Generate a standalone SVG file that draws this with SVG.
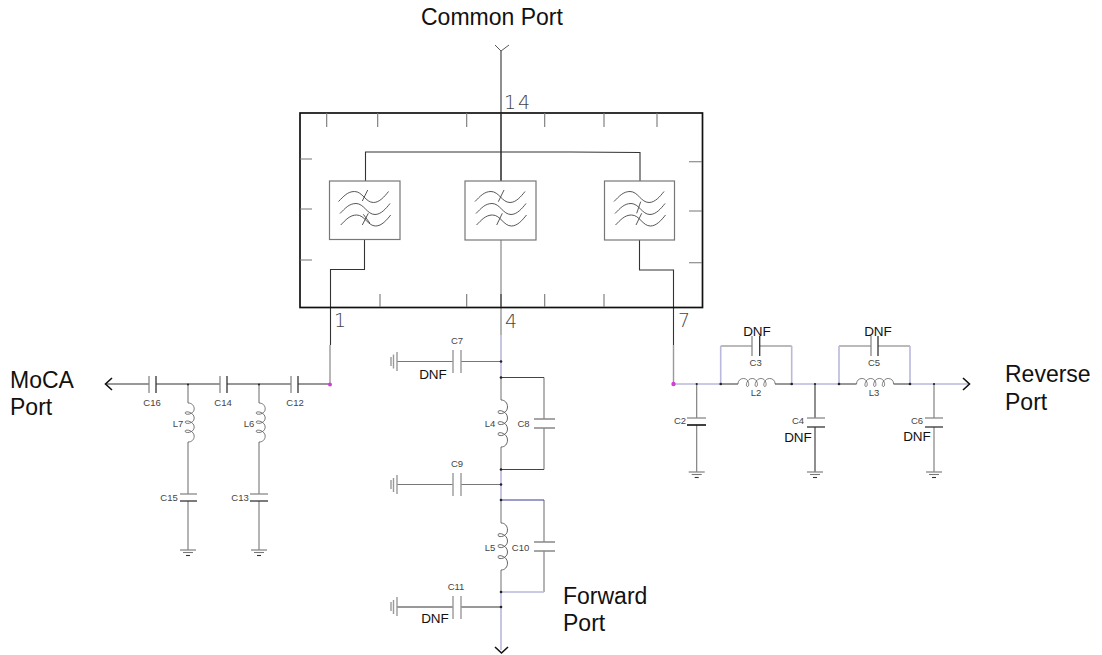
<svg xmlns="http://www.w3.org/2000/svg" width="1102" height="655" viewBox="0 0 1102 655">
<style>
text{font-family:"Liberation Sans",Arial,sans-serif;fill:#111}
.big{font-size:23px}
.dnf{font-size:13.5px;text-anchor:middle}
.sm{font-size:9.5px;text-anchor:middle;fill:#444}
.pin{font-family:"DejaVu Sans",sans-serif;font-size:19px;fill:#444;font-weight:200}
.w{fill:none;stroke:#777;stroke-width:1.1}
.d{fill:none;stroke:#333;stroke-width:1.1}
.g{fill:none;stroke:#999;stroke-width:1.4}
.pb{fill:none;stroke:#b9b9dc;stroke-width:1.6}
.b{fill:none;stroke:#3a3a96;stroke-width:1.1}
.f{fill:#fff;stroke:#777;stroke-width:1.2}
.t{fill:none;stroke:#444;stroke-width:.9}
.i{fill:none;stroke:#555;stroke-width:.9}
.p{fill:none;stroke:#888;stroke-width:1.3}
.pk{fill:none;stroke:#333;stroke-width:1.3}
.a{fill:none;stroke:#111;stroke-width:1.6}
.n{fill:#222}
.m{fill:#d040d0}
</style>
<defs>
<path id="wave" class="t" d="M0 0C5-5 9-10 16-10C24-10 27 1 35 1C41 1 46-5 50-10"/>
<path id="ind" class="i" d="M0 0C4 0 6.500 3 6.500 7C6.500 14-3 15-3 12C-3 9 6.500 11 6.500 18C6.500 25-3 26-3 23C-3 20 6.500 22 6.500 29C6.500 36-3 37-3 34C-3 31 6.500 33 6.500 40C6.500 44 4 47 0 47"/>
<g id="gnd"><path class="p" d="M-8 0H8"/><path class="w" d="M-5 2.500H5"/><path class="d" d="M-2 5.500H2"/></g>
</defs>

<g id="connectors">
<path class="d" d="M501 51V181M365.500 181V152H571L640 152.500V181M364.500 239.500V269.500H330.500V345"/>
<path class="d" d="M639.500 240V270H673.500V345"/>
<path class="g" d="M501 240V318"/>
<path class="w" d="M501 318V335"/>
<path class="pb" d="M501 335V378M501 469.500V500M501 592V650"/>
<path class="g" d="M501 378V400M501 447V469.500M501 500V523M501 570V592"/>
<path class="g" d="M330 345V384"/>
<path class="g" d="M673.500 345V384"/>
<path class="d" d="M106 384H149M156 384H220M227 384H291M298 384H330"/>
<path class="w" d="M188 384V403M188 442V494M188 501V550M259 384V403M259 442V494M259 501V550"/>
<path class="w" d="M397 361.500H453M461 361.500H501M397 484.500H453M461 484.500H501"/>
<path class="d" d="M397 607H453M461 607H501"/>
<path class="w" d="M544 377.500V419M544 428V469.500M544 500V542M544 551V592"/>
<path class="b" d="M501 377.500H544M501 469.500H544M501 500H544"/>
<path class="pb" d="M501 592H544"/>
<path class="pb" d="M674 384H720.700M791.700 384H839M910 384H969"/>
<path class="d" d="M720.700 384H738M775 384H791.700M839 384H856.500M893.500 384H910"/>
<path class="w" d="M720.700 346H752M759.700 346H791.700M839 346H871M878 346H910"/>
<path class="pb" d="M720.700 384V346M791.700 384V346M839 384V346M910 384V346"/>
<path class="w" d="M696.700 384V418M696.700 425V472M934 384V418M934 427V472"/>
<path class="d" d="M815 384V418M815 427V472"/>
</g>

<g id="common-port">
<path class="t" d="M495 45L501 51L509 45"/>
<text class="big" x="421" y="25">Common Port</text>
<text class="pin" x="504" y="109" letter-spacing="2">14</text>
</g>

<g id="module">
<rect x="300" y="113" width="402.500" height="194.500" fill="none" stroke="#111" stroke-width="1.7"/>
<path class="d" d="M501 113V181"/>
<path class="w" d="M326.700 113V127M377.700 113V127M466.700 113V127M544.700 113V127M604 113V127M657 113V127M300 159H312M300 209H312M300 260H312M689 161.700H702M689 211H702M689 262.700H702M380 294V307M466.700 294V307M544.700 294V307M604 294V307"/>
<path class="d" d="M501 294V307"/>
<text class="pin" x="334" y="327">1</text>
<text class="pin" x="505" y="328">4</text>
<text class="pin" x="678" y="327">7</text>
</g>

<g id="filter-1">
<rect class="f" x="329.500" y="181" width="70.500" height="58.500"/>
<use href="#wave" x="338.500" y="201.500"/><use href="#wave" x="340" y="213.500"/><use href="#wave" x="340.700" y="225"/>
<path class="t" d="M362.300 201L367.700 190M362.300 225L368.300 213.300M363.300 214.300L370 223.300"/>
</g>
<g id="filter-2">
<rect class="f" x="465" y="181" width="71" height="59"/>
<use href="#wave" x="475" y="201.500"/><use href="#wave" x="476" y="213.500"/><use href="#wave" x="476.500" y="225"/>
<path class="t" d="M498.300 201.700L504 190M496.700 225L502.300 213.300"/>
</g>
<g id="filter-3">
<rect class="f" x="604.500" y="181" width="70" height="59"/>
<use href="#wave" x="614" y="201.500"/><use href="#wave" x="615" y="213.500"/><use href="#wave" x="615.500" y="225"/>
<path class="t" d="M636.700 213.300L640.700 201.700M636 225L641.700 213.300"/>
</g>

<g id="moca-port">
<path class="a" d="M112 378L105.500 384L112 390"/>
<text class="big" x="10" y="388">MoCA</text>
<text class="big" x="10" y="415">Port</text>
<circle class="m" cx="330" cy="384.500" r="2"/>
</g>
<g id="c16"><path class="p" d="M149 376V393"/><path class="pk" d="M156 376V393"/><text class="sm" x="152" y="406">C16</text></g>
<g id="c14"><path class="p" d="M220 376V393"/><path class="pk" d="M227 376V393"/><text class="sm" x="223" y="406">C14</text></g>
<g id="c12"><path class="p" d="M291 376V393"/><path class="pk" d="M298 376V393"/><text class="sm" x="295" y="406">C12</text></g>
<g id="l7"><use href="#ind" transform="translate(188 403) scale(.95 .83)"/><text class="sm" x="178" y="427">L7</text><circle class="n" cx="188" cy="384.500" r="1"/></g>
<g id="l6"><use href="#ind" transform="translate(259 403) scale(.95 .83)"/><text class="sm" x="249" y="427">L6</text><circle class="n" cx="259" cy="384.500" r="1"/></g>
<g id="c15"><path class="p" d="M180 494H197"/><path class="pk" d="M180 501H197"/><text class="sm" x="169" y="501">C15</text></g>
<g id="c13"><path class="p" d="M250 494H268"/><path class="pk" d="M250 501H268"/><text class="sm" x="240" y="501">C13</text></g>
<use id="g-c15" href="#gnd" x="188" y="550"/>
<use id="g-c13" href="#gnd" x="259" y="550"/>

<g id="c7"><path class="g" d="M397 352V371M393.500 354.500V368.500M391 357V366M453 350V373M461 350V373"/><circle class="n" cx="501" cy="361.500" r="1.300"/><text class="sm" x="457" y="344">C7</text><text class="dnf" x="433" y="379">DNF</text></g>
<g id="l4"><use href="#ind" transform="translate(501 400)"/><text class="sm" x="490" y="427">L4</text><circle class="n" cx="501" cy="377.500" r="1.300"/><circle class="n" cx="501" cy="469.500" r="1.300"/></g>
<g id="c8"><path class="p" d="M534 419H555M534 428H555"/><text class="sm" x="523.500" y="427">C8</text></g>
<g id="c9"><path class="g" d="M397 475V494M393.500 478V492M391 480V489M453 473V496M461 473V496"/><circle class="n" cx="501" cy="484.500" r="1.300"/><text class="sm" x="457" y="467">C9</text></g>
<g id="l5"><use href="#ind" transform="translate(501 523)"/><text class="sm" x="490" y="551">L5</text><circle class="n" cx="501" cy="500" r="1.300"/><circle class="n" cx="501" cy="592" r="1.300"/></g>
<g id="c10"><path class="p" d="M534 542H555M534 551H555"/><text class="sm" x="520.500" y="551">C10</text></g>
<g id="c11"><path class="g" d="M397 597V616M393.500 600V614M391 602V611M453 596V619M461 596V619"/><circle class="n" cx="501" cy="607" r="1.300"/><text class="sm" x="456" y="590">C11</text><text class="dnf" x="435" y="623">DNF</text></g>
<g id="forward-port"><path class="a" d="M495 647L501.500 653L508 647"/><text class="big" x="563" y="604">Forward</text><text class="big" x="563" y="631">Port</text></g>

<g id="reverse-port">
<circle class="m" cx="673.500" cy="384" r="2.200"/>
<path class="a" d="M963 378L969.500 384L963 390"/>
<text class="big" x="1005" y="382">Reverse</text>
<text class="big" x="1005" y="410">Port</text>
</g>
<g id="c2"><path class="p" d="M687 418H706"/><path class="a" d="M687 425H706"/><circle class="n" cx="696.700" cy="384" r="1.100"/><text class="sm" x="680" y="424">C2</text></g>
<use id="g-c2" href="#gnd" x="696.700" y="472"/>
<g id="c3"><path class="p" d="M752 336V356"/><path class="pk" d="M759.700 336V356"/><text class="sm" x="755.700" y="366">C3</text><text class="dnf" x="757" y="336">DNF</text><circle class="n" cx="720.700" cy="384" r="1.300"/><circle class="n" cx="791.700" cy="384" r="1.300"/></g>
<g id="l2"><use href="#ind" transform="translate(738 384) rotate(-90) scale(.85 .79)"/><text class="sm" x="756" y="396">L2</text></g>
<g id="c4"><path class="p" d="M807 418H825"/><path class="pk" d="M807 427H825"/><circle class="n" cx="815" cy="384" r="1.100"/><text class="sm" x="798" y="424">C4</text><text class="dnf" x="798" y="442">DNF</text></g>
<use id="g-c4" href="#gnd" x="815" y="472"/>
<g id="c5"><path class="p" d="M871 336V356"/><path class="pk" d="M878 336V356"/><text class="sm" x="874" y="366">C5</text><text class="dnf" x="878" y="336">DNF</text><circle class="n" cx="839" cy="384" r="1.300"/><circle class="n" cx="910" cy="384" r="1.300"/></g>
<g id="l3"><use href="#ind" transform="translate(856.500 384) rotate(-90) scale(.85 .79)"/><text class="sm" x="874" y="396">L3</text></g>
<g id="c6"><path class="p" d="M925 418H943"/><path class="pk" d="M925 427H943"/><circle class="n" cx="934" cy="384" r="1.100"/><text class="sm" x="917" y="424">C6</text><text class="dnf" x="917" y="441">DNF</text></g>
<use id="g-c6" href="#gnd" x="934" y="472"/>
</svg>
